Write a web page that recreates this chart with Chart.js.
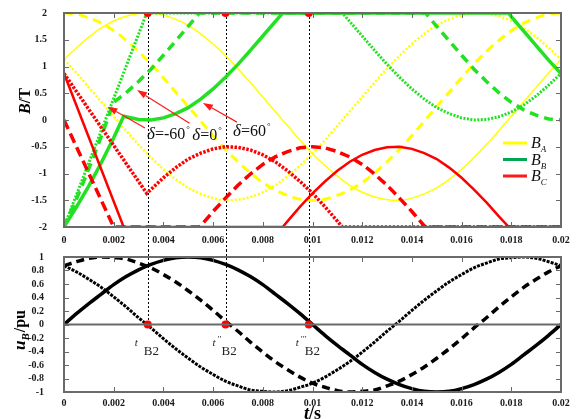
<!DOCTYPE html>
<html>
<head>
<meta charset="utf-8">
<script src="https://cdn.jsdelivr.net/npm/chart.js@4.4.1/dist/chart.umd.min.js"></script>
<style>
  html, body { margin: 0; padding: 0; background: #fff; }
  #fig { position: relative; width: 578px; height: 419px; overflow: hidden; }
  #fluxCanvas { position: absolute; left: 0; top: 0; }
  #voltCanvas { position: absolute; left: 0; top: 250px; }
</style>
</head>
<body>
<div id="fig">
  <canvas id="fluxCanvas" width="578" height="250"></canvas>
  <canvas id="voltCanvas" width="578" height="169"></canvas>
</div>
<script>
// ---- sampling instants (s) ----
const T = [0,0.0005,0.001,0.0015,0.002,0.0025,0.003,0.0035,0.004,0.0045,0.005,
           0.0055,0.006,0.0065,0.007,0.0075,0.008,0.0085,0.009,0.0095,0.01,
           0.0105,0.011,0.0115,0.012,0.0125,0.013,0.0135,0.014,0.0145,0.015,
           0.0155,0.016,0.0165,0.017,0.0175,0.018,0.0185,0.019,0.0195,0.02];

// ---- phase A flux density (T), one curve per switching angle ----
const bA_d60  = [1.13,1.35,1.55,1.72,1.85,1.94,1.99,2.00,1.96,1.88,1.77,1.61,1.42,1.20,0.96,0.70,0.43,0.16,-0.11,-0.38,-0.63,
                 -0.85,-1.05,-1.22,-1.35,-1.44,-1.49,-1.50,-1.46,-1.38,-1.27,-1.11,-0.92,-0.70,-0.46,-0.20,0.07,0.34,0.61,0.88,1.13];
const bA_d0   = [2.00,1.98,1.91,1.81,1.67,1.49,1.28,1.05,0.79,0.52,0.25,-0.02,-0.29,-0.55,-0.78,-0.99,-1.17,-1.31,-1.41,-1.48,-1.50,
                 -1.48,-1.41,-1.31,-1.17,-0.99,-0.78,-0.55,-0.29,-0.02,0.25,0.52,0.79,1.05,1.28,1.49,1.67,1.81,1.91,1.98,2.00];
const bA_dm60 = [1.13,0.88,0.61,0.34,0.07,-0.20,-0.46,-0.70,-0.92,-1.11,-1.27,-1.38,-1.46,-1.50,-1.49,-1.44,-1.35,-1.22,-1.05,-0.85,-0.63,
                 -0.38,-0.11,0.16,0.43,0.70,0.96,1.20,1.42,1.61,1.77,1.88,1.96,2.00,1.99,1.94,1.85,1.72,1.55,1.35,1.13];

// ---- phase B flux density (T): [t, B] ----
const bB_d60 = [[0,-2],[0.0005,-1.63],[0.001,-1.23],[0.0015,-0.80],[0.002,-0.33],[0.0024,0.07],[0.0025,0.06],[0.003,0.01],
                [0.0035,0.00],[0.004,0.04],[0.0045,0.12],[0.005,0.23],[0.0055,0.39],[0.006,0.58],[0.0065,0.80],[0.007,1.04],
                [0.0075,1.30],[0.008,1.57],[0.0085,1.84],[0.0088,2],[0.0179,2],[0.018,1.93],[0.0185,1.66],[0.019,1.39],
                [0.0195,1.12],[0.02,0.87]];
const bB_d0  = [[0,-2],[0.0005,-1.48],[0.001,-0.91],[0.0015,-0.31],[0.002,0.33],[0.0025,0.51],[0.003,0.72],[0.0035,0.95],
                [0.004,1.21],[0.0045,1.48],[0.005,1.75],[0.00545,2],[0.01455,2],[0.015,1.75],[0.0155,1.48],[0.016,1.21],
                [0.0165,0.95],[0.017,0.72],[0.0175,0.51],[0.018,0.33],[0.0185,0.19],[0.019,0.09],[0.0195,0.02],[0.02,0]];
const bB_dm60 = [[0,-2],[0.00333,2],[0.0112,2],[0.0115,1.84],[0.012,1.57],[0.0125,1.30],[0.013,1.04],[0.0135,0.80],
                 [0.014,0.58],[0.0145,0.39],[0.015,0.23],[0.0155,0.12],[0.016,0.04],[0.0165,0.00],[0.017,0.01],
                 [0.0175,0.06],[0.018,0.15],[0.0185,0.28],[0.019,0.45],[0.0195,0.65],[0.02,0.87]];

// ---- phase C flux density (T): [t, B] ----
const bC_d60 = [[0,0.87],[0.0024,-2],[0.0088,-2],[0.009,-1.89],[0.0095,-1.62],[0.01,-1.37],[0.0105,-1.15],[0.011,-0.95],
                [0.0115,-0.78],[0.012,-0.65],[0.0125,-0.56],[0.013,-0.51],[0.0135,-0.50],[0.014,-0.54],[0.0145,-0.62],
                [0.015,-0.73],[0.0155,-0.89],[0.016,-1.08],[0.0165,-1.30],[0.017,-1.54],[0.0175,-1.80],[0.0179,-2],[0.02,-2]];
const bC_d0  = [[0,0],[0.002,-2],[0.00545,-2],[0.0055,-1.98],[0.006,-1.71],[0.0065,-1.46],[0.007,-1.22],[0.0075,-1.01],
                [0.008,-0.83],[0.0085,-0.69],[0.009,-0.59],[0.0095,-0.52],[0.01,-0.50],[0.0105,-0.52],[0.011,-0.59],
                [0.0115,-0.69],[0.012,-0.83],[0.0125,-1.01],[0.013,-1.22],[0.0135,-1.46],[0.014,-1.71],[0.0145,-1.98],
                [0.01455,-2],[0.02,-2]];
const bC_dm60 = [[0,0.87],[0.00333,-1.37],[0.0035,-1.30],[0.004,-1.08],[0.0045,-0.89],[0.005,-0.73],[0.0055,-0.62],
                 [0.006,-0.54],[0.0065,-0.50],[0.007,-0.51],[0.0075,-0.56],[0.008,-0.65],[0.0085,-0.78],[0.009,-0.95],
                 [0.0095,-1.15],[0.01,-1.37],[0.0105,-1.62],[0.011,-1.89],[0.0112,-2],[0.02,-2]];

// ---- phase B voltage (pu) ----
const uB_d60  = [0,0.16,0.31,0.45,0.59,0.71,0.81,0.89,0.95,0.99,1,0.99,0.95,0.89,0.81,0.71,0.59,0.45,0.31,0.16,0,
                 -0.16,-0.31,-0.45,-0.59,-0.71,-0.81,-0.89,-0.95,-0.99,-1,-0.99,-0.95,-0.89,-0.81,-0.71,-0.59,-0.45,-0.31,-0.16,0];
const uB_d0   = [0.87,0.93,0.98,1.00,0.99,0.97,0.91,0.84,0.74,0.63,0.50,0.36,0.21,0.05,-0.10,-0.26,-0.41,-0.55,-0.67,-0.78,-0.87,
                 -0.93,-0.98,-1.00,-0.99,-0.97,-0.91,-0.84,-0.74,-0.63,-0.50,-0.36,-0.21,-0.05,0.10,0.26,0.41,0.55,0.67,0.78,0.87];
const uB_dm60 = [0.87,0.78,0.67,0.55,0.41,0.26,0.10,-0.05,-0.21,-0.36,-0.50,-0.63,-0.74,-0.84,-0.91,-0.97,-0.99,-1.00,-0.98,-0.93,-0.87,
                 -0.78,-0.67,-0.55,-0.41,-0.26,-0.10,0.05,0.21,0.36,0.50,0.63,0.74,0.84,0.91,0.97,0.99,1.00,0.98,0.93,0.87];

// instants where phase B enters saturation: t_B2, t''_B2, t'''_B2
const tB2 = [0.00337, 0.0065, 0.00985];
const tB2Primes = ['', '\u2032\u2032', '\u2032\u2032\u2032'];

// axis ranges
const X_RANGE = [0, 0.02], X_STEP = 0.002;
const B_RANGE = [-2, 2], B_STEP = 0.5;
const U_RANGE = [-1, 1], U_STEP = 0.2;

const SERIF = '"Liberation Serif", "Times New Roman", serif';
const YELLOW = '#ffff00', GREEN = '#22e022', RED = '#ff0000';

const fromGrid = vals => T.map((t, i) => ({ x: t, y: vals[i] }));
const fromPairs = pairs => pairs.map(p => ({ x: p[0], y: p[1] }));

function curve(data, color, width, dash, smooth) {
  return {
    type: 'line', data, borderColor: color, borderWidth: width, borderDash: dash,
    pointRadius: 0, fill: false, tension: 0,
    cubicInterpolationMode: smooth ? 'monotone' : 'default'
  };
}
function markers(yVal) {
  return {
    type: 'scatter', data: tB2.map(t => ({ x: t, y: yVal })),
    pointRadius: 4, pointBackgroundColor: RED, pointBorderWidth: 0, showLine: false
  };
}

// ---- drawing helpers ----
function runsWidth(ctx, runs) {
  let w = 0;
  runs.forEach(r => { ctx.font = r.font; w += ctx.measureText(r.text).width + (r.dx || 0); });
  return w;
}
function drawRuns(ctx, x, y, runs) {
  ctx.textAlign = 'left';
  ctx.textBaseline = 'alphabetic';
  runs.forEach(r => {
    ctx.font = r.font;
    x += (r.dx || 0);
    ctx.fillText(r.text, x, y + (r.dy || 0));
    x += ctx.measureText(r.text).width;
  });
}

// frame with inward ticks on all four sides
const framePlugin = {
  id: 'frame',
  afterDatasetsDraw(chart, args, opts) {
    const { ctx, chartArea: a } = chart;
    const xs = chart.scales.x, ys = chart.scales.y;
    ctx.save();
    ctx.strokeStyle = '#6a6a6a';
    ctx.lineWidth = 1;
    ctx.beginPath();
    const tl = 5;
    xs.ticks.forEach(tk => {
      const x = Math.round(xs.getPixelForValue(tk.value)) + 0.5;
      ctx.moveTo(x, a.top); ctx.lineTo(x, a.top + tl);
      ctx.moveTo(x, a.bottom); ctx.lineTo(x, a.bottom - tl);
    });
    ys.ticks.forEach(tk => {
      const y = Math.round(ys.getPixelForValue(tk.value)) + 0.5;
      ctx.moveTo(a.left, y); ctx.lineTo(a.left + tl, y);
      ctx.moveTo(a.right, y); ctx.lineTo(a.right - tl, y);
    });
    ctx.stroke();
    ctx.lineWidth = 2;
    if (opts.zeroLine) {
      const y0 = ys.getPixelForValue(0);
      ctx.beginPath(); ctx.moveTo(a.left, y0); ctx.lineTo(a.right, y0); ctx.stroke();
    }
    ctx.strokeRect(a.left, a.top, a.right - a.left, a.bottom - a.top);
    ctx.restore();
  }
};

// dotted guide lines through the saturation instants
const guidePlugin = {
  id: 'guides',
  beforeDatasetsDraw(chart, args, opts) {
    const { ctx } = chart;
    const xs = chart.scales.x, ys = chart.scales.y;
    ctx.save();
    ctx.strokeStyle = '#000';
    ctx.lineWidth = 1;
    ctx.setLineDash([2, 2]);
    tB2.forEach(t => {
      const x = Math.round(xs.getPixelForValue(t)) + 0.5;
      const yA = opts.upper ? ys.getPixelForValue(2) : 0;
      const yB = opts.upper ? chart.height : ys.getPixelForValue(0);
      ctx.beginPath(); ctx.moveTo(x, yA); ctx.lineTo(x, yB); ctx.stroke();
    });
    ctx.restore();
  }
};

// switching-angle callouts
const ARROWS = [
  [0.00326, -0.15, 0.00175, 0.25],
  [0.00505, -0.06, 0.00294, 0.56],
  [0.00696, -0.04, 0.00559, 0.32]
];
const DELTA_TEXT = [['-60', 0.00334, -0.25], ['0', 0.00516, -0.27], ['60', 0.0068, -0.19]];

const calloutPlugin = {
  id: 'callouts',
  afterDatasetsDraw(chart) {
    const { ctx } = chart;
    const xs = chart.scales.x, ys = chart.scales.y;
    ctx.save();
    ctx.strokeStyle = '#ff1a1a';
    ctx.fillStyle = '#ff1a1a';
    ctx.lineWidth = 1.2;
    ARROWS.forEach(([t0, b0, t1, b1]) => {
      const x0 = xs.getPixelForValue(t0), y0 = ys.getPixelForValue(b0);
      const x1 = xs.getPixelForValue(t1), y1 = ys.getPixelForValue(b1);
      const ang = Math.atan2(y1 - y0, x1 - x0);
      const L = 10, W = 3.5;
      const bx = x1 - L * Math.cos(ang), by = y1 - L * Math.sin(ang);
      ctx.beginPath(); ctx.moveTo(x0, y0); ctx.lineTo(bx, by); ctx.stroke();
      ctx.beginPath();
      ctx.moveTo(x1, y1);
      ctx.lineTo(bx + W * Math.sin(ang), by - W * Math.cos(ang));
      ctx.lineTo(bx - W * Math.sin(ang), by + W * Math.cos(ang));
      ctx.closePath(); ctx.fill();
    });
    ctx.fillStyle = '#111';
    DELTA_TEXT.forEach(([deg, t, b]) => {
      const x = xs.getPixelForValue(t), y = ys.getPixelForValue(b) + 6;
      drawRuns(ctx, x, y, [
        { text: '\u03b4', font: 'italic 17px ' + SERIF },
        { text: '=' + deg, font: '16px ' + SERIF },
        { text: '\u00b0', font: '9px ' + SERIF, dy: -7, dx: 1 }
      ]);
    });
    ctx.restore();
  }
};

// legend and axis title of the flux panel
const LEGEND = [['A', YELLOW], ['B', '#00a651'], ['C', '#ff1a1a']];
const fluxDecor = {
  id: 'fluxDecor',
  afterDraw(chart) {
    const { ctx, chartArea: a } = chart;
    ctx.save();
    LEGEND.forEach(([ph, col], i) => {
      const y = a.top + 130 + i * 16.5;
      ctx.strokeStyle = col; ctx.lineWidth = 3; ctx.setLineDash([]);
      ctx.beginPath(); ctx.moveTo(a.right - 58, y); ctx.lineTo(a.right - 34, y); ctx.stroke();
      ctx.fillStyle = '#111';
      drawRuns(ctx, a.right - 30, y + 5, [
        { text: 'B', font: 'italic 16px ' + SERIF },
        { text: ph, font: 'italic 9px ' + SERIF, dy: 4, dx: 0 }
      ]);
    });
    // B/T
    ctx.translate(a.left - 40, a.top + 88);
    ctx.rotate(-Math.PI / 2);
    ctx.fillStyle = '#000';
    const runs = [
      { text: 'B', font: 'italic bold 16px ' + SERIF },
      { text: '/T', font: 'bold 16px ' + SERIF }
    ];
    drawRuns(ctx, -runsWidth(ctx, runs) / 2, 6, runs);
    ctx.restore();
  }
};

// labels of the voltage panel
const voltDecor = {
  id: 'voltDecor',
  afterDraw(chart) {
    const { ctx, chartArea: a } = chart;
    const xs = chart.scales.x, ys = chart.scales.y;
    ctx.save();
    ctx.fillStyle = '#222';
    tB2.forEach((t, i) => {
      const x = xs.getPixelForValue(t), y = ys.getPixelForValue(0);
      drawRuns(ctx, x - 13, y + 21, [{ text: 't', font: 'italic 11px ' + SERIF }]);
      if (tB2Primes[i]) drawRuns(ctx, x - 8, y + 17, [{ text: tB2Primes[i], font: '9px ' + SERIF }]);
      drawRuns(ctx, x - 4, y + 30, [{ text: 'B2', font: '13px ' + SERIF }]);
    });
    ctx.fillStyle = '#000';
    // t/s
    const tr = [
      { text: 't', font: 'italic bold 18px ' + SERIF },
      { text: '/s', font: 'bold 18px ' + SERIF }
    ];
    drawRuns(ctx, (a.left + a.right) / 2 - runsWidth(ctx, tr) / 2, a.bottom + 27, tr);
    // u_B/pu
    ctx.translate(a.left - 45, a.top + 73);
    ctx.rotate(-Math.PI / 2);
    const ur = [
      { text: 'u', font: 'italic bold 17px ' + SERIF },
      { text: 'B', font: 'italic bold 11px ' + SERIF, dy: 4 },
      { text: '/pu', font: 'bold 16px ' + SERIF, dx: 1 }
    ];
    drawRuns(ctx, -runsWidth(ctx, ur) / 2, 6, ur);
    ctx.restore();
  }
};

const tickFont = { family: SERIF, size: 10, weight: 'bold' };

function options(yRange, yStep, yFmt, xAxisH, yPad, xPad, padTop, extra) {
  return {
    responsive: false, animation: false, events: [],
    layout: { padding: { top: padTop, right: 17, left: 0, bottom: 0 } },
    plugins: { legend: { display: false }, tooltip: { enabled: false }, ...extra },
    scales: {
      x: {
        type: 'linear', min: X_RANGE[0], max: X_RANGE[1],
        grid: { display: false, drawTicks: false }, border: { display: false },
        ticks: { stepSize: X_STEP, font: tickFont, color: '#1a1a1a', padding: xPad,
                 maxRotation: 0, autoSkip: false, callback: v => String(+v.toFixed(3)) },
        afterFit: s => { s.height = xAxisH; s.paddingLeft = 0; s.paddingRight = 0; }
      },
      y: {
        type: 'linear', min: yRange[0], max: yRange[1],
        grid: { display: false, drawTicks: false }, border: { display: false },
        ticks: { stepSize: yStep, font: tickFont, color: '#1a1a1a', padding: yPad,
                 autoSkip: false, callback: yFmt },
        afterFit: s => { s.width = 64; s.paddingTop = 0; s.paddingBottom = 0; }
      }
    }
  };
}

// ---- flux density panel ----
new Chart(document.getElementById('fluxCanvas'), {
  type: 'line',
  data: {
    datasets: [
      markers(2),
      curve(fromPairs(bC_d60), RED, 2.5, [], false),
      curve(fromPairs(bC_d0), RED, 3.5, [10, 5], false),
      curve(fromPairs(bC_dm60), RED, 3.5, [2.5, 1.5], false),
      curve(fromPairs(bB_d60), GREEN, 3.5, [], false),
      curve(fromPairs(bB_d0), GREEN, 3.5, [9, 6], false),
      curve(fromPairs(bB_dm60), GREEN, 3, [2, 1.5], false),
      curve(fromGrid(bA_d60), YELLOW, 1.5, [], true),
      curve(fromGrid(bA_d0), YELLOW, 3, [9, 6], true),
      curve(fromGrid(bA_dm60), YELLOW, 2.5, [2, 2], true)
    ]
  },
  options: options(B_RANGE, B_STEP, v => String(+v.toFixed(1)), 23, 17, 7, 13,
                   { guides: { upper: true } }),
  plugins: [guidePlugin, framePlugin, calloutPlugin, fluxDecor]
});

// ---- phase B voltage panel ----
new Chart(document.getElementById('voltCanvas'), {
  type: 'line',
  data: {
    datasets: [
      markers(0),
      curve(fromGrid(uB_d60), '#000', 3.5, [], true),
      curve(fromGrid(uB_d0), '#000', 3.5, [8, 5], true),
      curve(fromGrid(uB_dm60), '#000', 3, [3, 1.2], true)
    ]
  },
  options: options(U_RANGE, U_STEP, v => String(+v.toFixed(1)), 27, 20, 5, 7,
                   { guides: { upper: false }, frame: { zeroLine: true } }),
  plugins: [guidePlugin, framePlugin, voltDecor]
});
</script>
</body>
</html>
